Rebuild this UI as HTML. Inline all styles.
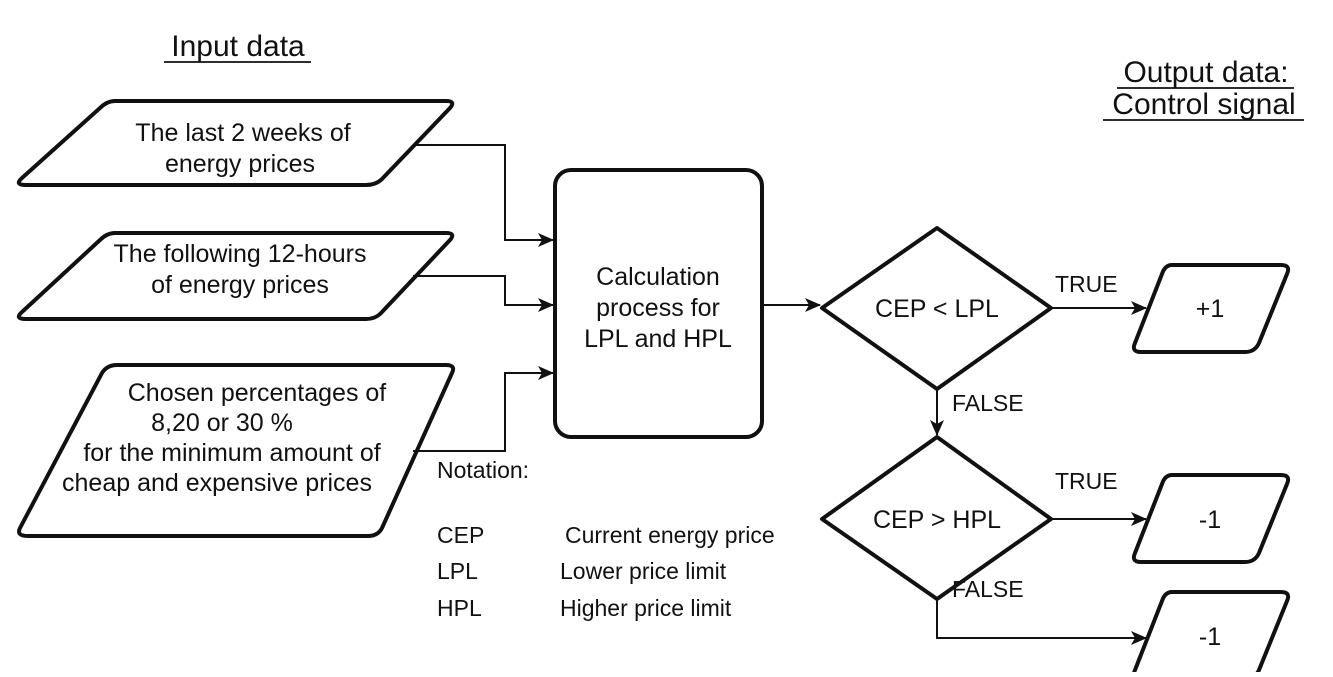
<!DOCTYPE html>
<html><head><style>
body{margin:0;background:#fff;}
svg text{font-family:"Liberation Sans",Arial,sans-serif;fill:#111;}
</style></head><body>
<svg width="1333" height="672" viewBox="0 0 1333 672" xmlns="http://www.w3.org/2000/svg">
<defs><marker id="a" markerWidth="16" markerHeight="14" refX="15" refY="7" orient="auto" markerUnits="userSpaceOnUse"><path d="M0,0 L16,7 L0,14 L4,7 Z" fill="#111"/></marker></defs>
<g font-size="30" text-anchor="middle">
<text x="238" y="56">Input data</text>
<line x1="164" y1="62" x2="311" y2="62" stroke="#111" stroke-width="1.8"/>
<text x="1206" y="82">Output data:</text>
<line x1="1117" y1="88" x2="1294" y2="88" stroke="#111" stroke-width="1.8"/>
<text x="1204" y="114">Control signal</text>
<line x1="1103" y1="120" x2="1304" y2="120" stroke="#111" stroke-width="1.8"/>
</g>
<g fill="none" stroke="#111" stroke-width="4" stroke-linejoin="round">
<path d="M115,101 L446,101 Q456,101 450,108 L382,179 Q376,185 366,185 L26,185 Q14,185 22,178 L100,108 Q107,101 115,101 Z"/>
<path d="M115,233 L446,233 Q456,233 450,240 L382,312 Q376,319 366,319 L26,319 Q14,319 22,312 L100,240 Q107,233 115,233 Z"/>
<path d="M117,365 L446,365 Q456,365 452,373 L382,528 Q378,536 368,536 L28,536 Q16,536 20,528 L102,373 Q107,365 117,365 Z"/>
<rect x="555" y="170" width="207" height="267" rx="16"/>
<path d="M822,308 L937,228 L1051,308 L937,389 Z"/>
<path d="M822,519 L937,437 L1051,519 L937,599 Z"/>
<path d="M1172,265 L1281,265 Q1291,265 1287,274 L1259,343 Q1255,352 1245,352 L1141,352 Q1131,352 1135,343 L1162,274 Q1165,265 1172,265 Z"/>
<path d="M1172,475 L1281,475 Q1291,475 1287,484 L1259,553 Q1255,562 1245,562 L1141,562 Q1131,562 1135,553 L1162,484 Q1165,475 1172,475 Z"/>
<path d="M1172,592 L1281,592 Q1291,592 1287,601 L1259,670 Q1255,679 1245,679 L1141,679 Q1131,679 1135,670 L1162,601 Q1165,592 1172,592 Z"/>
</g>
<g fill="none" stroke="#111" stroke-width="2">
<path d="M413,145 H505 V240 H553" marker-end="url(#a)"/>
<path d="M413,276 H505 V305 H553" marker-end="url(#a)"/>
<path d="M413,451 H505 V373 H553" marker-end="url(#a)"/>
<path d="M762,305 H820" marker-end="url(#a)"/>
<path d="M1051,308 H1146" marker-end="url(#a)"/>
<path d="M937,389 V435" marker-end="url(#a)"/>
<path d="M1051,519 H1146" marker-end="url(#a)"/>
<path d="M937,599 V638 H1146" marker-end="url(#a)"/>
</g>
<g font-size="25" text-anchor="middle">
<text x="243" y="141">The last 2 weeks of</text>
<text x="240" y="172">energy prices</text>
<text x="240" y="262">The following 12-hours</text>
<text x="240" y="293">of energy prices</text>
<text x="257" y="401">Chosen percentages of</text>
<text x="222" y="431">8,20 or 30 %</text>
<text x="232" y="461">for the minimum amount of</text>
<text x="217" y="491">cheap and expensive prices</text>
<text x="658" y="285">Calculation</text>
<text x="658" y="316">process for</text>
<text x="658" y="347">LPL and HPL</text>
<text x="937" y="317">CEP &lt; LPL</text>
<text x="937" y="528">CEP &gt; HPL</text>
<text x="1210" y="317">+1</text>
<text x="1210" y="528">-1</text>
<text x="1210" y="645">-1</text>
</g>
<g font-size="23">
<text x="1055" y="292">TRUE</text>
<text x="952" y="411">FALSE</text>
<text x="1055" y="489">TRUE</text>
<text x="952" y="597">FALSE</text>
<text x="437" y="478">Notation:</text>
<text x="437" y="543">CEP</text>
<text x="565" y="543">Current energy price</text>
<text x="437" y="579">LPL</text>
<text x="560" y="579">Lower price limit</text>
<text x="437" y="616">HPL</text>
<text x="560" y="616">Higher price limit</text>
</g>
</svg>
</body></html>
